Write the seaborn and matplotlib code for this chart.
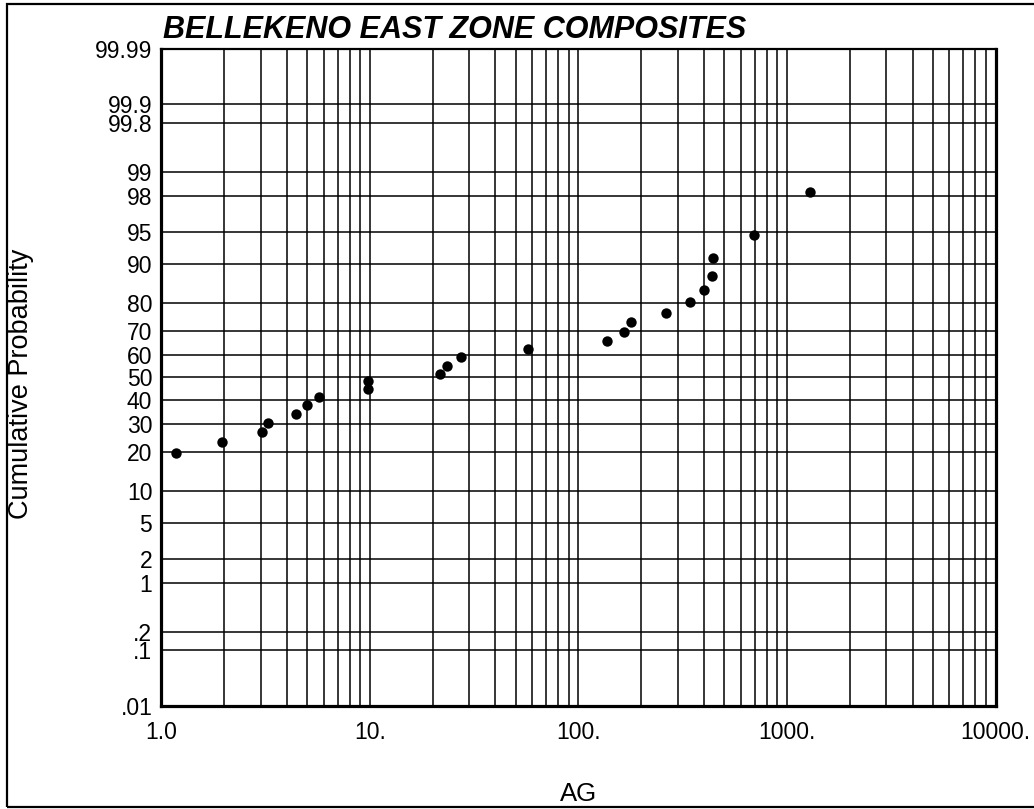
import numpy as np
import matplotlib
matplotlib.use("Agg")
import matplotlib.pyplot as plt
import matplotlib.ticker as mticker
from matplotlib.patches import Rectangle
from statistics import NormalDist
import seaborn as sns

# ---- data ----
ag_values = [1.18, 1.95, 3.05, 3.24, 4.43, 5.01, 5.71, 9.77, 9.84, 21.6, 23.4, 27.3,
             57.6, 136.7, 165.6, 177.8, 261.9, 342.3, 399.3, 438.6, 443.6, 693.6, 1286]
cum_prob = [19.7, 23.3, 26.8, 30.2, 33.9, 37.5, 41.0, 44.6, 48.2, 51.6, 55.2, 59.0,
            62.5, 65.9, 69.4, 73.3, 76.7, 80.3, 83.7, 87.4, 91.1, 94.6, 98.2]

y_ticks = [0.01, 0.1, 0.2, 1, 2, 5, 10, 20, 30, 40, 50, 60, 70, 80, 90, 95, 98, 99, 99.8, 99.9, 99.99]
y_ticklabels = [".01", ".1", ".2", "1", "2", "5", "10", "20", "30", "40", "50", "60", "70",
                "80", "90", "95", "98", "99", "99.8", "99.9", "99.99"]
x_ticks = [1, 10, 100, 1000, 10000]
x_ticklabels = ["1.0", "10.", "100.", "1000.", "10000."]

title = "BELLEKENO EAST ZONE COMPOSITES"
xlabel = "AG"
ylabel = "Cumulative Probability"

# ---- theme ----
sns.set_theme(style="white")
plt.rcParams["font.family"] = ["Liberation Sans", "DejaVu Sans"]

_nd = NormalDist()


def prob_fwd(p):
    p = np.asarray(p, dtype=float)
    q = np.clip(p / 100.0, 1e-9, 1 - 1e-9)
    ok = np.isfinite(q)
    q2 = np.where(ok, q, 0.5)
    out = np.vectorize(_nd.inv_cdf, otypes=[float])(q2) if q2.size else q2.astype(float)
    return np.where(ok, out, np.nan)


def prob_inv(z):
    z = np.asarray(z, dtype=float)
    ok = np.isfinite(z)
    z2 = np.where(ok, z, 0.0)
    out = 100.0 * np.vectorize(_nd.cdf, otypes=[float])(z2) if z2.size else z2.astype(float)
    return np.where(ok, out, np.nan)


fig = plt.figure(figsize=(10.34, 8.09), dpi=100)
ax = fig.add_axes([0.156, 0.1273, 0.8068, 0.8127])

ax.set_xscale("log")
ax.set_yscale("function", functions=(prob_fwd, prob_inv))
ax.set_xlim(1, 10000)
ax.set_ylim(0.01, 99.99)

ax.set_axisbelow(True)
sns.scatterplot(x=ag_values, y=cum_prob, ax=ax, color="black", s=56,
                linewidth=0, zorder=3, legend=False)

# ticks
ax.xaxis.set_major_locator(mticker.FixedLocator(x_ticks))
ax.xaxis.set_major_formatter(mticker.FixedFormatter(x_ticklabels))
ax.xaxis.set_minor_locator(mticker.LogLocator(base=10, subs=np.arange(2, 10)))
ax.xaxis.set_minor_formatter(mticker.NullFormatter())
ax.yaxis.set_major_locator(mticker.FixedLocator(y_ticks))
ax.yaxis.set_major_formatter(mticker.FixedFormatter(y_ticklabels))
ax.yaxis.set_minor_locator(mticker.NullLocator())

ax.tick_params(axis="both", which="both", length=0, labelsize=16.5, colors="black")
ax.tick_params(axis="x", pad=11)
ax.tick_params(axis="y", pad=6.5)

ax.grid(True, which="both", axis="x", color="black", linewidth=1.1)
ax.grid(True, which="major", axis="y", color="black", linewidth=1.1)

for side in ["left", "bottom", "right"]:
    ax.spines[side].set_linewidth(2.3)
    ax.spines[side].set_color("black")
ax.spines["top"].set_linewidth(1.6)
ax.spines["top"].set_color("black")

ax.set_xlabel(xlabel, fontsize=18.5, color="black")
ax.xaxis.set_label_coords(0.5, -0.115)
ax.set_ylabel(ylabel, fontsize=19.5, color="black")
ax.yaxis.set_label_coords(-0.153, 0.49)

ax.text(0.002, 1.0155, title, transform=ax.transAxes, ha="left", va="baseline",
        fontsize=22, fontweight="bold", fontstyle="italic", color="black")

# figure frame (open on the right, as in the reference)
fig.patches.append(Rectangle((0.0065, 0.0025), 1.2, 0.9925, transform=fig.transFigure,
                             fill=False, edgecolor="black", linewidth=1.6, clip_on=False))

fig.savefig("out.png", dpi=100)
